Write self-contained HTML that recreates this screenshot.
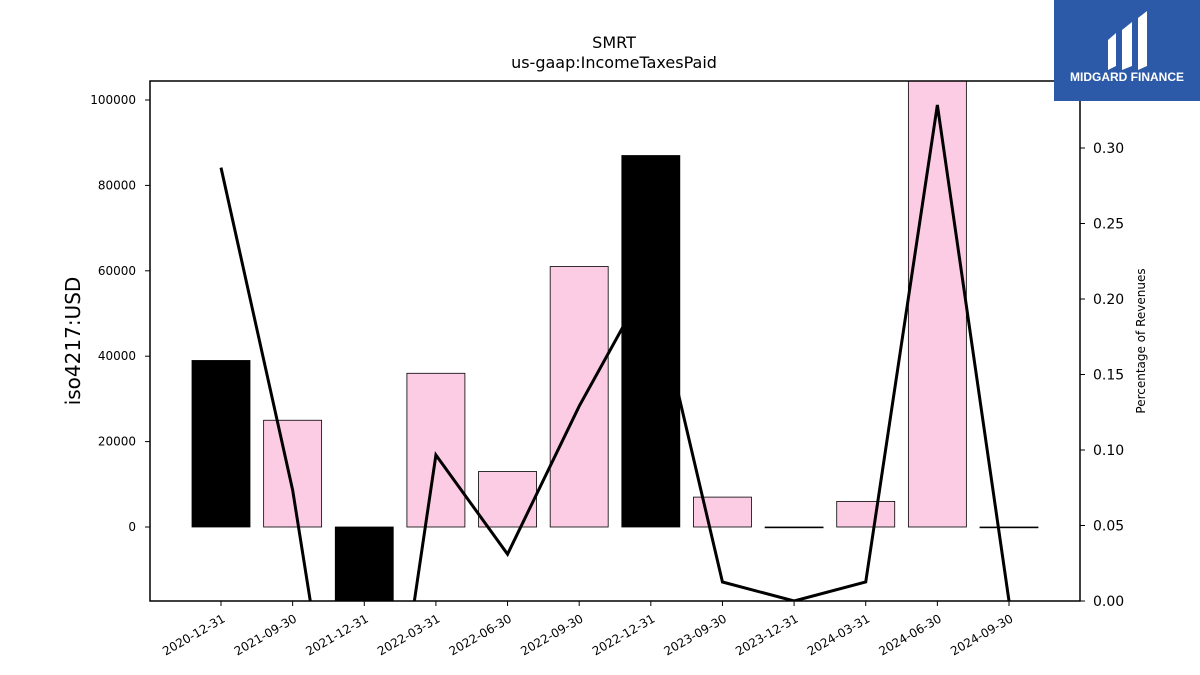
<!DOCTYPE html>
<html><head><meta charset="utf-8"><style>
html,body{margin:0;padding:0;background:#fff;width:1200px;height:675px;overflow:hidden;font-family:"Liberation Sans","DejaVu Sans",sans-serif}
svg{display:block}
</style></head><body>
<svg id="chart" width="1200" height="675" xmlns="http://www.w3.org/2000/svg" font-family="DejaVu Sans, Liberation Sans, sans-serif">
<text x="614" y="48" font-size="16" text-anchor="middle">SMRT</text>
<text x="614" y="68" font-size="16" text-anchor="middle">us-gaap:IncomeTaxesPaid</text>
<g id="bars"></g><g id="line"></g><g id="axes"></g>
<rect x="150" y="81" width="930" height="520" fill="none" stroke="#000" stroke-width="1.5"/>
<text transform="translate(80,341) rotate(-90)" font-size="20" text-anchor="middle">iso4217:USD</text>
<text transform="translate(1145,341) rotate(-90)" font-size="12" text-anchor="middle">Percentage of Revenues</text>
<g>
<rect x="1054" y="0" width="146" height="101" fill="#2d5aa8"/>
<path d="M1108 40 L1116 33 L1116 66 L1108 70 Z M1122 30 L1132 22 L1132 66 L1122 70 Z M1138 18 L1147 11 L1147 66 L1138 70 Z" fill="#fff"/>
<text x="1127" y="81" font-size="12" font-weight="bold" fill="#fff" text-anchor="middle" font-family="Liberation Sans, sans-serif">MIDGARD FINANCE</text>
</g>
</svg>
<script>
const categories=["2020-12-31","2021-09-30","2021-12-31","2022-03-31","2022-06-30","2022-09-30","2022-12-31","2023-09-30","2023-12-31","2024-03-31","2024-06-30","2024-09-30"];
const taxesPaid=[39000,25000,-20000,36000,13000,61000,87000,7000,0,6000,110000,0];
const pctRevenues=[0.287,0.0735,-0.225,0.0967,0.031,0.129,0.215,0.0126,0,0.0126,0.3285,0];
const annualFlags=[1,0,1,0,0,0,1,0,0,0,0,0];
const leftTicks=[0,20000,40000,60000,80000,100000];
const rightTicks=[0,0.05,0.10,0.15,0.20,0.25,0.30];
const NS="http://www.w3.org/2000/svg";
const X0=150,X1=1080,Y0=81,Y1=601;
const step=788/(categories.length-1);
const xc=i=>221+step*i;
const yL=v=>527-(v)*(527-100)/100000;
const yR=v=>Y1-v*(Y1-148)/0.30;
function mk(t,a,p){const e=document.createElementNS(NS,t);for(const k in a)e.setAttribute(k,a[k]);p.appendChild(e);return e;}
const bars=document.getElementById('bars'),line=document.getElementById('line'),axes=document.getElementById('axes');
const clip=mk('clipPath',{id:'pc'},document.getElementById('chart'));mk('rect',{x:X0,y:Y0,width:X1-X0,height:Y1-Y0},clip);
bars.setAttribute('clip-path','url(#pc)');line.setAttribute('clip-path','url(#pc)');
taxesPaid.forEach((v,i)=>{const a=yL(v),b=yL(0);
const r=mk('rect',{x:xc(i)-29,y:Math.min(a,b),width:58,height:Math.max(Math.abs(a-b),0.8),fill:annualFlags[i]?'#000':'#fccbe4',stroke:'#000','stroke-width':0.8},bars);

});
const pl=mk('polyline',{points:pctRevenues.map((v,i)=>xc(i)+','+yR(v)).join(' '),fill:'none',stroke:'#000','stroke-width':3},line);


leftTicks.forEach(v=>{const y=yL(v);mk('line',{x1:X0-5,x2:X0,y1:y,y2:y,stroke:'#000'},axes);
const t=mk('text',{x:X0-14,y:y+4,'font-size':12,'text-anchor':'end'},axes);t.textContent=v;

});
rightTicks.forEach(v=>{const y=yR(v);mk('line',{x1:X1,x2:X1+5,y1:y,y2:y,stroke:'#000'},axes);
const t=mk('text',{x:X1+13,y:y+5,'font-size':14},axes);t.textContent=v.toFixed(2);

});
categories.forEach((c,i)=>{const x=xc(i);mk('line',{x1:x,x2:x,y1:Y1,y2:Y1+5,stroke:'#000'},axes);
const t=mk('text',{transform:`translate(${x+5},${Y1+20}) rotate(-30)`,'font-size':12,'text-anchor':'end'},axes);t.textContent=c;

});
</script>
</body></html>
